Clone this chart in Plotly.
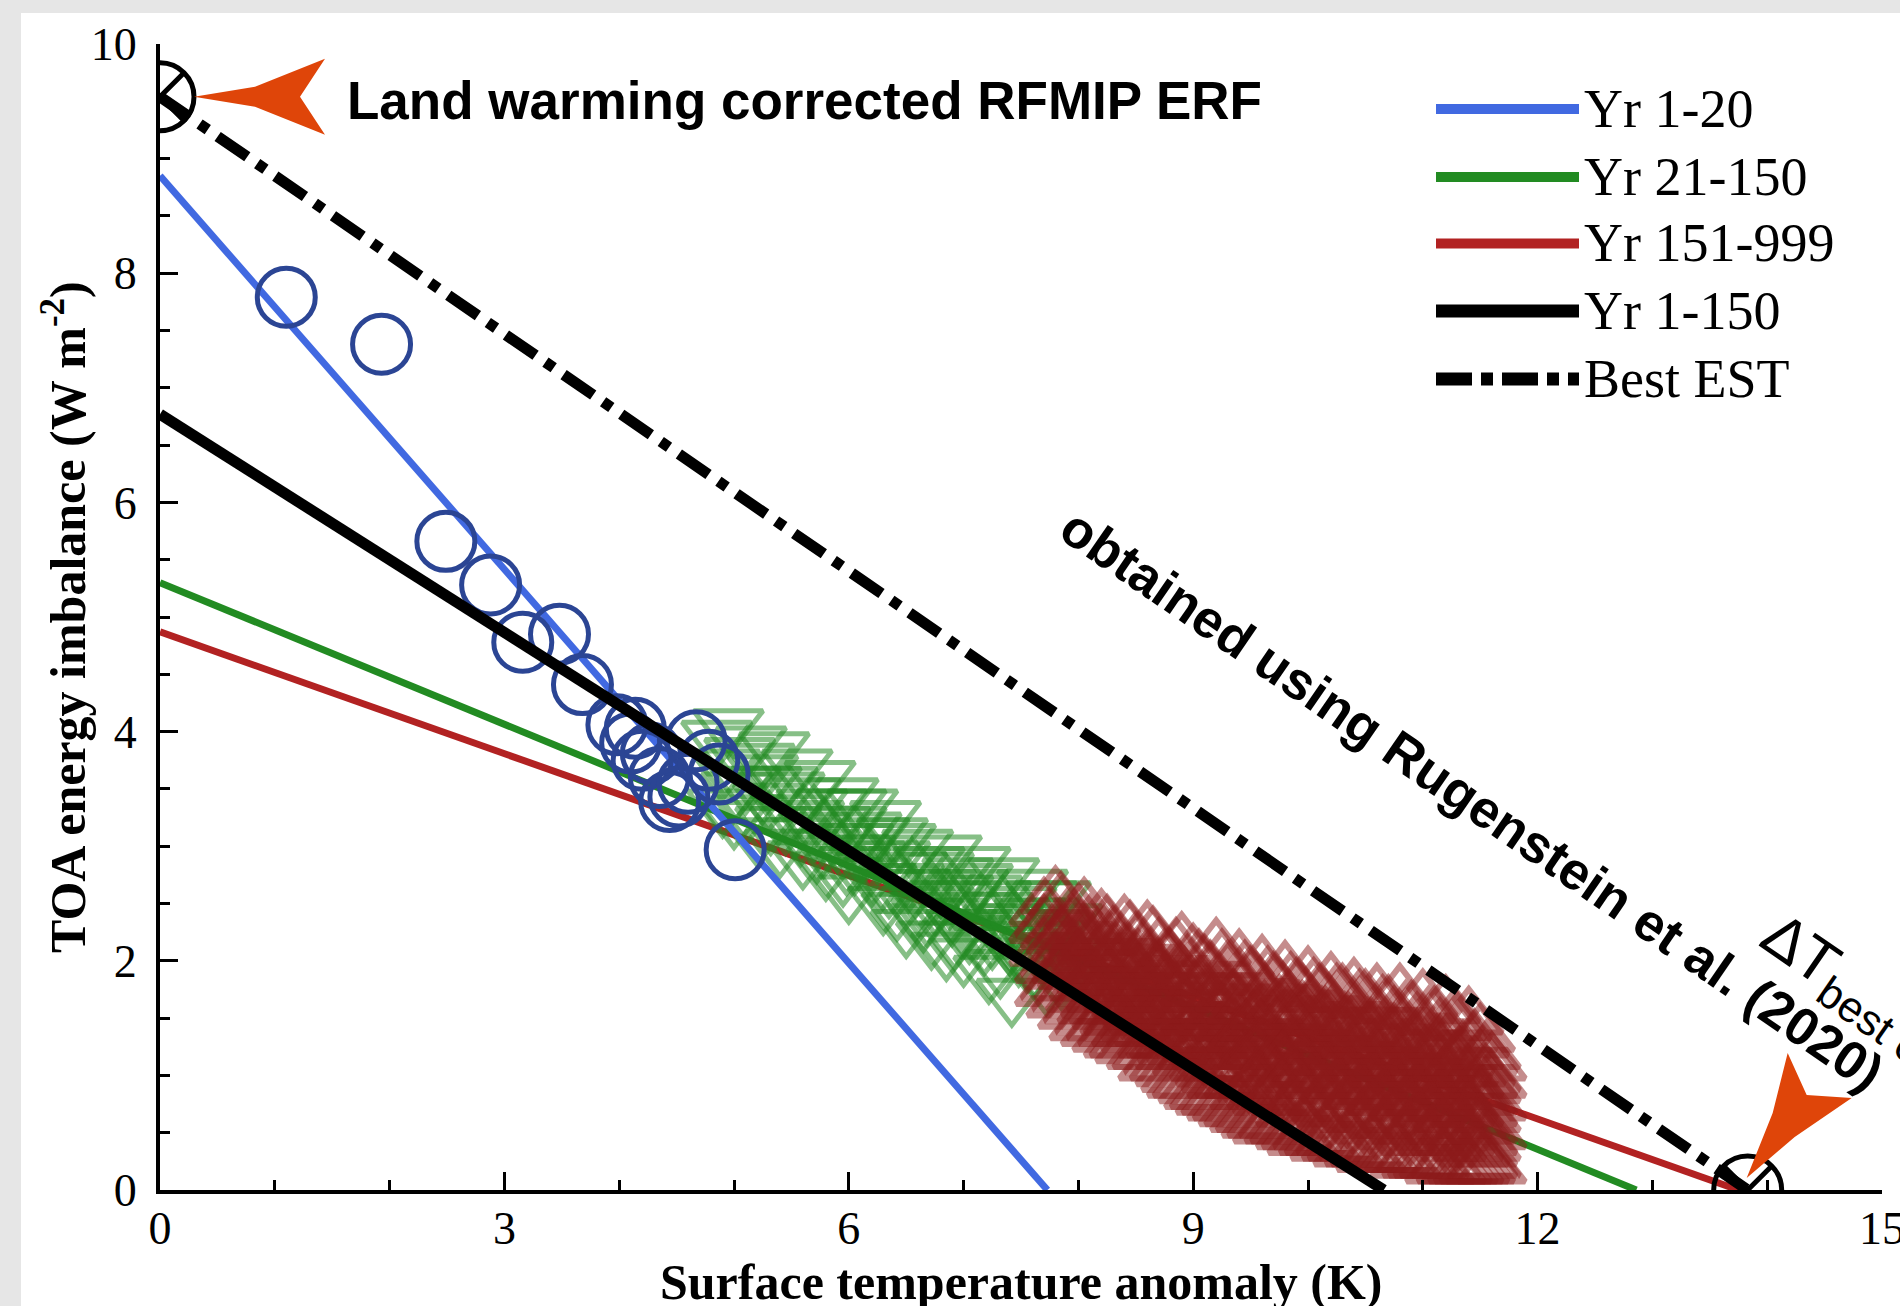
import plotly.graph_objects as go

# ---------------- data ----------------
# regression / best-estimate lines (end points)
fit_1_20_x = [0, 7.73]
fit_1_20_y = [8.85, 0]
fit_21_150_x = [0, 12.86]
fit_21_150_y = [5.30, 0]
fit_151_999_x = [0, 13.75]
fit_151_999_y = [4.87, 0]
fit_1_150_x = [0, 10.66]
fit_1_150_y = [6.77, 0]
best_est_x = [0, 13.83]
best_est_y = [9.54, 0]

# special points (ERF intercept and best-estimate dT)
marked_x = [0, 13.83]
marked_y = [9.54, 0]

# Yr 1-20 annual points
yr1_20_x = [1.10, 1.93, 2.49, 2.88, 3.16, 3.48, 3.68, 3.98, 4.14, 4.20,
            4.28, 4.44, 4.52, 4.67, 4.78, 4.87, 5.01, 4.35, 4.60, 4.10]
yr1_20_y = [7.79, 7.38, 5.66, 5.28, 4.78, 4.85, 4.41, 4.06, 4.03, 3.75,
            3.81, 3.39, 3.43, 3.92, 3.75, 3.63, 2.97, 3.60, 3.55, 3.90]

# Yr 21-150 annual points (estimated)
yr21_150_x = [4.85, 4.90, 4.95, 5.00, 5.05, 5.10, 5.15, 5.20, 5.25, 5.30,
              5.35, 5.40, 5.42, 5.50, 5.55, 5.60, 5.62, 5.70, 5.75, 5.80,
              5.85, 5.90, 5.95, 6.00, 6.02, 6.10, 6.12, 6.20, 6.22, 6.30,
              6.32, 6.40, 6.45, 6.50, 6.52, 6.60, 6.62, 6.70, 6.72, 6.80,
              6.85, 6.90, 6.95, 7.00, 7.02, 7.10, 7.12, 7.20, 7.22, 7.30,
              7.35, 7.40, 7.42, 7.50, 7.52, 7.60, 7.62, 7.70, 7.75, 7.80,
              7.85, 7.90, 6.05, 6.25, 6.55, 6.75, 6.95, 7.15, 7.45, 7.65,
              5.65, 5.45, 6.15, 6.35, 7.25, 7.55, 6.65, 7.05, 5.95, 6.85,
              4.92, 5.02, 5.12, 5.22, 5.32, 5.48, 5.58, 5.68, 5.78, 5.88,
              5.98, 6.08, 6.18, 6.28, 6.38, 6.48, 6.58, 6.68, 6.78, 6.88,
              6.98, 7.08, 7.18, 7.28, 7.38, 7.48, 7.58, 7.68, 7.78, 7.88,
              5.28, 5.72, 6.42, 6.92, 7.32, 7.72, 6.02, 6.58, 7.12, 7.62]
yr21_150_y = [3.95, 3.35, 4.05, 3.25, 3.80, 3.55, 3.90, 3.10, 3.65, 3.40,
              3.85, 3.00, 3.55, 3.30, 3.70, 2.90, 3.45, 3.15, 3.60, 2.80,
              3.35, 3.05, 3.45, 2.60, 3.20, 2.95, 3.35, 2.75, 3.10, 2.50,
              3.25, 2.90, 3.05, 2.30, 2.70, 3.00, 2.55, 2.85, 2.20, 2.65,
              2.95, 2.40, 2.75, 2.05, 2.55, 2.85, 2.30, 2.60, 1.90, 2.45,
              2.75, 2.15, 1.70, 2.50, 2.30, 2.65, 1.95, 2.40, 2.20, 2.55,
              1.85, 2.35, 2.85, 2.95, 2.80, 2.50, 2.60, 2.45, 2.35, 2.10,
              3.25, 3.20, 3.15, 2.65, 2.20, 2.00, 2.35, 2.25, 2.75, 2.10,
              3.70, 3.50, 3.30, 3.75, 3.20, 3.50, 3.10, 3.35, 3.00, 3.20,
              2.85, 3.05, 2.90, 2.70, 3.10, 2.85, 2.65, 2.40, 2.80, 2.55,
              2.30, 2.65, 2.15, 2.55, 2.35, 2.05, 2.40, 2.55, 2.30, 2.05,
              3.55, 2.95, 2.45, 2.20, 1.95, 1.80, 3.35, 2.45, 2.70, 2.25]

# Yr 151-999 annual points (estimated, grouped by temperature column)
yr151_999_cols_x = [7.70, 7.80, 7.90, 8.00, 8.10, 8.20, 8.30, 8.40, 8.50, 8.60,
                    8.70, 8.80, 8.90, 9.00, 9.10, 9.20, 9.30, 9.40, 9.50, 9.60,
                    9.70, 9.80, 9.90, 10.00, 10.10, 10.20, 10.30, 10.40, 10.50, 10.60,
                    10.70, 10.80, 10.90, 11.00, 11.10, 11.20, 11.30, 11.40, 11.50, 11.55,
                    11.60,
                    7.75, 7.85, 7.95, 8.05, 8.15, 8.25, 8.35, 8.45, 8.55, 8.65,
                    8.75, 8.85, 8.95, 9.05, 9.15, 9.25, 9.35, 9.45, 9.55, 9.65,
                    9.75, 9.85, 9.95, 10.05, 10.15, 10.25, 10.35, 10.45, 10.55, 10.65,
                    10.75, 10.85, 10.95, 11.05, 11.15, 11.25, 11.35, 11.45, 11.52,
                    7.82, 7.92, 8.02, 8.12, 8.22, 8.32, 8.42, 8.52, 8.62, 8.72,
                    8.82, 8.92, 9.02, 9.12, 9.22, 9.32, 9.42, 9.52, 9.62, 9.72,
                    9.82, 9.92, 10.02, 10.12, 10.22, 10.32, 10.42, 10.52, 10.62, 10.72,
                    10.82, 10.92, 11.02, 11.12, 11.22, 11.32, 11.42, 11.52]
yr151_999_cols_y = [
    [2.45, 2.10, 2.30],
    [2.55, 2.00, 2.25, 1.80],
    [2.35, 1.70, 2.10, 1.95],
    [2.40, 1.60, 2.15, 1.85, 2.00],
    [2.30, 1.50, 1.90, 2.05, 1.75],
    [2.35, 1.45, 1.70, 2.10, 1.95],
    [2.20, 1.40, 1.85, 1.60, 2.00],
    [2.30, 1.30, 1.75, 2.05, 1.55],
    [2.15, 1.35, 1.90, 1.65, 1.45],
    [2.25, 1.20, 1.80, 1.55, 2.00],
    [2.10, 1.15, 1.70, 1.45, 1.90],
    [2.00, 1.05, 1.60, 1.35, 1.85, 1.20],
    [2.15, 0.95, 1.50, 1.75, 1.25],
    [2.05, 0.90, 1.40, 1.65, 1.20, 1.85],
    [1.95, 0.85, 1.55, 1.30, 1.10],
    [2.10, 0.80, 1.45, 1.70, 1.00, 1.25],
    [1.90, 0.75, 1.35, 1.60, 1.10],
    [2.00, 0.70, 1.50, 1.20, 0.95, 1.75],
    [1.85, 0.65, 1.30, 1.55, 1.05],
    [1.95, 0.60, 1.40, 1.15, 0.85, 1.70],
    [1.80, 0.60, 1.25, 1.50, 1.00],
    [1.90, 0.55, 1.35, 1.10, 0.80, 1.60],
    [1.75, 0.50, 1.20, 1.45, 0.95],
    [1.85, 0.50, 1.30, 1.05, 0.75, 1.55],
    [1.70, 0.45, 1.15, 1.40, 0.90],
    [1.80, 0.45, 1.25, 1.00, 0.70, 1.50],
    [1.70, 0.40, 1.10, 1.35, 0.85],
    [1.75, 0.40, 1.20, 0.95, 0.65, 1.45],
    [1.65, 0.35, 1.05, 1.30, 0.80],
    [1.70, 0.35, 1.15, 0.90, 0.60, 1.40],
    [1.60, 0.30, 1.00, 1.25, 0.75],
    [1.70, 0.30, 1.10, 0.85, 0.55, 1.35],
    [1.55, 0.30, 0.95, 1.20, 0.70],
    [1.65, 0.25, 1.05, 0.80, 0.50, 1.30],
    [1.50, 0.25, 0.90, 1.15, 0.65],
    [1.60, 0.25, 1.00, 0.75, 0.45, 1.25],
    [1.45, 0.20, 0.85, 1.10, 0.60],
    [1.50, 0.20, 0.95, 0.70, 0.40, 1.20],
    [1.35, 0.20, 0.80, 1.05, 0.55],
    [1.20, 0.25, 0.90, 0.65, 0.40, 1.00],
    [1.10, 0.20, 0.75, 0.50, 0.95],
    [2.35, 1.95, 1.75],
    [2.50, 1.65, 2.20],
    [2.30, 1.55, 1.90, 2.05],
    [2.45, 1.45, 1.80, 2.20],
    [2.20, 1.40, 1.65, 2.00],
    [2.30, 1.35, 1.80, 1.55],
    [2.10, 1.30, 1.95, 1.50, 1.70],
    [2.25, 1.25, 1.60, 1.85],
    [2.05, 1.20, 1.75, 1.40],
    [2.20, 1.10, 1.50, 1.90, 1.30],
    [2.00, 1.10, 1.60, 1.30, 1.80],
    [2.10, 1.00, 1.45, 1.70],
    [1.95, 0.95, 1.35, 1.60, 1.15],
    [2.00, 0.85, 1.50, 1.25, 1.75],
    [1.90, 0.80, 1.35, 1.60, 1.05],
    [2.00, 0.75, 1.20, 1.55, 0.95],
    [1.85, 0.70, 1.45, 1.25, 1.65],
    [1.90, 0.65, 1.10, 1.40, 0.85],
    [1.80, 0.60, 1.20, 1.50, 0.95, 1.35],
    [1.85, 0.55, 1.05, 1.30, 0.80],
    [1.75, 0.55, 1.15, 1.45, 0.90, 1.60],
    [1.80, 0.50, 1.00, 1.25, 0.70],
    [1.70, 0.45, 1.10, 1.40, 0.85, 1.55],
    [1.75, 0.45, 0.95, 1.20, 0.65],
    [1.65, 0.40, 1.05, 1.35, 0.80, 1.50],
    [1.70, 0.40, 0.90, 1.15, 0.60],
    [1.60, 0.35, 1.00, 1.30, 0.75, 1.45],
    [1.65, 0.35, 0.85, 1.10, 0.55],
    [1.55, 0.30, 0.95, 1.25, 0.70, 1.40],
    [1.60, 0.30, 0.80, 1.05, 0.50],
    [1.50, 0.30, 0.90, 1.20, 0.65, 1.35],
    [1.55, 0.25, 0.75, 1.00, 0.45],
    [1.45, 0.25, 0.85, 1.15, 0.60, 1.30],
    [1.50, 0.25, 0.70, 0.95, 0.45],
    [1.40, 0.20, 0.80, 1.10, 0.55, 1.25],
    [1.45, 0.20, 0.65, 0.90, 0.40],
    [1.35, 0.20, 0.75, 1.05, 0.50, 1.20],
    [1.30, 0.20, 0.60, 0.85, 0.35],
    [1.15, 0.25, 0.70, 0.95, 0.45],
    [2.15, 1.90],
    [2.00, 2.25, 1.80],
    [1.95, 1.70, 2.25],
    [2.15, 1.85, 1.60],
    [1.90, 1.60, 2.20],
    [1.75, 2.05, 1.50],
    [1.95, 1.65, 1.40],
    [1.80, 1.55, 2.00],
    [1.70, 1.40, 1.95],
    [1.85, 1.55, 1.30],
    [1.50, 1.75, 1.25],
    [1.60, 1.35, 1.85],
    [1.55, 1.30, 1.75],
    [1.45, 1.20, 1.70],
    [1.55, 1.30, 1.10],
    [1.45, 1.20, 1.70, 0.95],
    [1.35, 1.10, 1.60],
    [1.45, 1.20, 0.90],
    [1.30, 1.05, 1.55],
    [1.40, 1.15, 0.85],
    [1.25, 1.00, 1.50],
    [1.30, 1.05, 0.80, 1.55],
    [1.20, 0.95, 1.40],
    [1.25, 1.00, 0.75, 1.50],
    [1.15, 0.90, 1.35],
    [1.20, 0.95, 0.70, 1.45],
    [1.10, 0.85, 1.30],
    [1.15, 0.90, 0.65, 1.40],
    [1.05, 0.80, 1.25],
    [1.10, 0.85, 0.60, 1.35],
    [1.00, 0.75, 1.20],
    [1.05, 0.80, 0.55, 1.30],
    [0.95, 0.70, 1.15],
    [1.00, 0.75, 0.50, 1.25],
    [0.90, 0.65, 1.10],
    [0.95, 0.70, 0.45, 1.15],
    [0.85, 0.60, 1.05],
    [0.80, 0.55, 0.35],
]
yr151_999_x = [cx for cx, col in zip(yr151_999_cols_x, yr151_999_cols_y) for _ in col]
yr151_999_y = [v for col in yr151_999_cols_y for v in col]

legend_labels = ["Yr 1-20", "Yr 21-150", "Yr 151-999", "Yr 1-150", "Best EST"]

x_ticks = [0, 3, 6, 9, 12, 15]
y_ticks = [0, 2, 4, 6, 8, 10]

# ---------------- styling ----------------
BLUE = "#4169E1"
GREEN = "#228B22"
RED = "#B22222"
NAVY = "#2B4594"
ORANGE = "#DF4509"
SERIF = "Liberation Serif"
SANS = "Liberation Sans"

# figure geometry (pixels)
W, H = 1900, 1306
ML, MR, MT, MB = 160, 18, 44, 116
PW, PH = W - ML - MR, H - MT - MB


def px(xpix):
    return (xpix - ML) / PW


def py(ypix):
    return (H - MB - ypix) / PH


fig = go.Figure()

fig.add_trace(go.Scatter(x=fit_151_999_x, y=fit_151_999_y, mode="lines",
                         line=dict(color=RED, width=7), showlegend=False))
fig.add_trace(go.Scatter(x=fit_21_150_x, y=fit_21_150_y, mode="lines",
                         line=dict(color=GREEN, width=7), showlegend=False))
fig.add_trace(go.Scatter(x=yr21_150_x, y=yr21_150_y, mode="markers",
                         marker=dict(symbol="triangle-down-open", size=60,
                                     color="rgba(34,139,34,0.55)",
                                     line=dict(width=5)),
                         showlegend=False))
fig.add_trace(go.Scatter(x=yr151_999_x, y=yr151_999_y, mode="markers",
                         marker=dict(symbol="triangle-up-open", size=58,
                                     color="rgba(139,26,26,0.5)",
                                     line=dict(width=6)),
                         showlegend=False))
fig.add_trace(go.Scatter(x=fit_1_20_x, y=fit_1_20_y, mode="lines",
                         line=dict(color=BLUE, width=7), showlegend=False))
fig.add_trace(go.Scatter(x=yr1_20_x, y=yr1_20_y, mode="markers",
                         marker=dict(symbol="circle-open", size=58, color=NAVY,
                                     line=dict(width=5)),
                         showlegend=False))
fig.add_trace(go.Scatter(x=fit_1_150_x, y=fit_1_150_y, mode="lines",
                         line=dict(color="black", width=11), showlegend=False))
fig.add_trace(go.Scatter(x=best_est_x, y=best_est_y, mode="lines",
                         line=dict(color="black", width=11, dash="36px,12px,10px,12px"),
                         showlegend=False))
fig.add_trace(go.Scatter(x=marked_x, y=marked_y, mode="markers",
                         marker=dict(symbol="circle-x-open", size=68, color="black",
                                     line=dict(width=5)),
                         showlegend=False))

shapes = []
# gray frame strips
shapes.append(dict(type="rect", xref="paper", yref="paper", layer="below",
                   x0=px(0), x1=px(W), y0=py(0), y1=py(13),
                   fillcolor="#e6e6e6", line=dict(width=0)))
shapes.append(dict(type="rect", xref="paper", yref="paper", layer="below",
                   x0=px(0), x1=px(21), y0=py(H), y1=py(0),
                   fillcolor="#e6e6e6", line=dict(width=0)))

# orange arrow heads
shapes.append(dict(type="path", xref="x", yref="y", xsizemode="pixel", ysizemode="pixel",
                   xanchor=marked_x[0], yanchor=marked_y[0],
                   path="M34,0 L95,10 L165,38 L140,0 L165,-38 L95,-10 Z",
                   fillcolor=ORANGE, line=dict(width=0)))
shapes.append(dict(type="path", xref="x", yref="y", xsizemode="pixel", ysizemode="pixel",
                   xanchor=marked_x[1], yanchor=marked_y[1],
                   path="M-1,12 L25,77 L40,137 L59,95 L104,92 L47,53 Z",
                   fillcolor=ORANGE, line=dict(width=0)))

# manual legend
leg_rows = [109, 177, 243.5, 311, 379]
leg_styles = [dict(color=BLUE, width=10), dict(color=GREEN, width=10),
              dict(color=RED, width=10), dict(color="black", width=13),
              dict(color="black", width=13, dash="36px,9px,12px,9px")]
annotations = []
for row, st, lab in zip(leg_rows, leg_styles, legend_labels):
    shapes.append(dict(type="line", xref="paper", yref="paper",
                       x0=px(1436), x1=px(1579), y0=py(row), y1=py(row), line=st))
    annotations.append(dict(xref="paper", yref="paper", x=px(1582), y=py(row),
                            xanchor="left", yanchor="middle", showarrow=False,
                            text=lab, font=dict(family=SERIF, size=54, color="black")))

annotations += [
    dict(xref="paper", yref="paper", x=px(345), y=py(101), xanchor="left", yanchor="middle",
         showarrow=False, text="<b>Land warming corrected RFMIP ERF</b>",
         font=dict(family=SANS, size=53, color="black")),
    dict(xref="paper", yref="paper", x=px(1472), y=py(800), xanchor="center", yanchor="middle",
         showarrow=False, textangle=34.5, text="<b>obtained using Rugenstein et al. (2020)</b>",
         font=dict(family=SANS, size=53, color="black")),
    dict(xref="paper", yref="paper", x=px(1862), y=py(996), xanchor="center", yanchor="middle",
         showarrow=False, textangle=34.5, text="∆T<sub>best est</sub>",
         font=dict(family=SANS, size=62, color="black")),
    dict(xref="paper", yref="paper", x=0.5, y=py(1282), xanchor="center", yanchor="middle",
         showarrow=False, text="<b>Surface temperature anomaly (K)</b>",
         font=dict(family=SERIF, size=50, color="black")),
    dict(xref="paper", yref="paper", x=px(64), y=0.5, xanchor="center", yanchor="middle",
         showarrow=False, textangle=-90, text="<b>TOA energy imbalance (W m<sup>-2</sup>)</b>",
         font=dict(family=SERIF, size=50, color="black")),
]

axis_common = dict(ticks="inside", ticklen=18, tickwidth=3, tickcolor="black",
                   showline=True, linewidth=4, linecolor="black",
                   showgrid=False, zeroline=False, ticklabeloverflow="allow",
                   automargin=False,
                   tickfont=dict(family=SERIF, size=46, color="black"))

fig.update_xaxes(range=[0, 15], tickvals=x_ticks, ticktext=[str(v) for v in x_ticks],
                 minor=dict(ticks="inside", dtick=1, tick0=0, ticklen=10, tickwidth=3,
                            tickcolor="black", showgrid=False),
                 ticklabelstandoff=-5, **axis_common)
fig.update_yaxes(range=[0, 10], tickvals=y_ticks, ticktext=[str(v) for v in y_ticks],
                 minor=dict(ticks="inside", dtick=0.5, tick0=0, ticklen=10, tickwidth=3,
                            tickcolor="black", showgrid=False),
                 ticklabelstandoff=10, **axis_common)

fig.update_layout(width=W, height=H, margin=dict(l=ML, r=MR, t=MT, b=MB, autoexpand=False),
                  paper_bgcolor="white", plot_bgcolor="white",
                  shapes=shapes, annotations=annotations, showlegend=False)

fig.write_html("out.html")
